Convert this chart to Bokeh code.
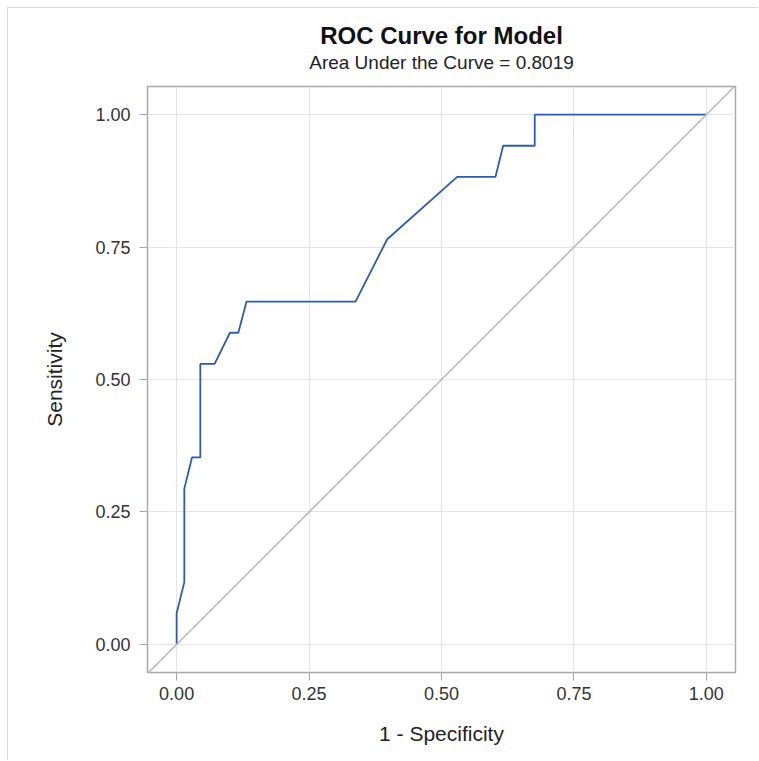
from bokeh.plotting import figure
from bokeh.embed import file_html
from bokeh.resources import INLINE
from bokeh.models import Range1d, FixedTicker, Slope, Title

# ROC curve points (1 - specificity, sensitivity)
fpr = [0.0, 0.0, 0.0145, 0.0145, 0.029, 0.0447, 0.0447, 0.0717, 0.1006, 0.1164,
       0.132, 0.3377, 0.3975, 0.5296, 0.6019, 0.6164, 0.676, 0.676, 1.0]
tpr = [0.0, 0.0588, 0.1176, 0.2941, 0.3529, 0.3529, 0.5294, 0.5294, 0.5882, 0.5882,
       0.6471, 0.6471, 0.7647, 0.8824, 0.8824, 0.9412, 0.9412, 1.0, 1.0]
ticks = [0.0, 0.25, 0.5, 0.75, 1.0]
tick_labels = ["0.00", "0.25", "0.50", "0.75", "1.00"]
title_text = "ROC Curve for Model"
subtitle_text = "Area Under the Curve = 0.8019"
x_label = "1 - Specificity"
y_label = "Sensitivity"

FONT = "Liberation Sans"

p = figure(width=751, height=753, output_backend="svg", toolbar_location=None,
           x_range=Range1d(-0.055, 1.055), y_range=Range1d(-0.053, 1.053),
           min_border_left=139, min_border_right=24, min_border_top=78, min_border_bottom=89)
p.styles = {"border-top": "1px solid #d8d8d8", "border-left": "1px solid #d8d8d8",
            "margin-left": "7px", "margin-top": "7px"}
p.title = None

spacer = Title(text=" ", text_font_size="1px", standoff=11)
sub = Title(text=subtitle_text, align="center", text_font=FONT, text_font_size="19px",
            text_font_style="normal", text_color="#222222", standoff=0)
ttl = Title(text=title_text, align="center", text_font=FONT, text_font_size="24px",
            text_font_style="bold", text_color="#111111", standoff=1)
p.add_layout(spacer, "above")
p.add_layout(sub, "above")
p.add_layout(ttl, "above")

p.outline_line_color = "#a8a8a8"
p.outline_line_width = 1.5
p.background_fill_color = "white"
p.border_fill_color = "white"

for ax in (p.xaxis[0], p.yaxis[0]):
    ax.ticker = FixedTicker(ticks=ticks)
    ax.major_label_overrides = {t: l for t, l in zip(ticks, tick_labels)}
    ax.axis_line_color = None
    ax.major_tick_line_color = "#a8a8a8"
    ax.major_tick_out = 8
    ax.major_tick_in = 0
    ax.minor_tick_line_color = None
    ax.major_label_text_font = FONT
    ax.major_label_text_font_size = "18px"
    ax.major_label_text_color = "#333333"
    ax.axis_label_text_font = FONT
    ax.axis_label_text_font_size = "21px"
    ax.axis_label_text_font_style = "normal"
    ax.axis_label_text_color = "#222222"

p.xaxis.axis_label = x_label
p.yaxis.axis_label = y_label
p.xaxis.major_label_standoff = 6
p.yaxis.major_label_standoff = 9
p.xaxis.axis_label_standoff = 19
p.yaxis.axis_label_standoff = 26

p.xgrid.ticker = FixedTicker(ticks=ticks)
p.ygrid.ticker = FixedTicker(ticks=ticks)
p.grid.grid_line_color = "#e4e4e4"
p.grid.grid_line_width = 1.2

p.add_layout(Slope(gradient=1, y_intercept=0, line_color="#b8b8b8", line_width=1.5))
p.line(fpr, tpr, line_color="#2b5cb5", line_width=1.8)

open("out.html", "w").write(file_html(p, INLINE))
